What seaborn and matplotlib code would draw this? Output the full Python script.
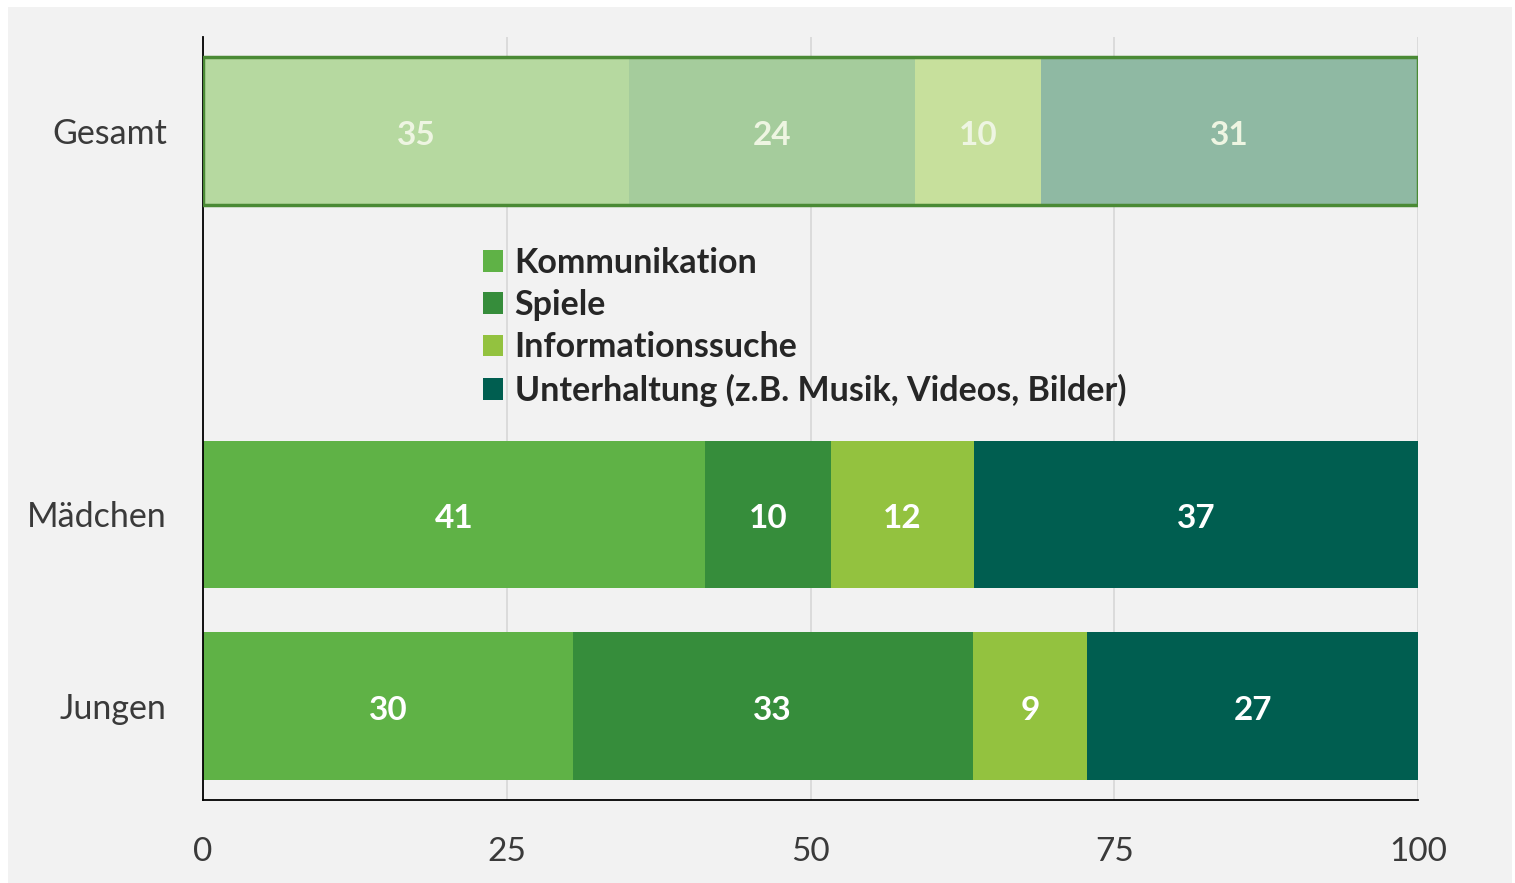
import matplotlib
matplotlib.use("Agg")
import matplotlib.pyplot as plt
import seaborn as sns
import pandas as pd
from matplotlib.patches import Rectangle, Patch

# ---------------- data ----------------
groups = ["Gesamt", "Mädchen", "Jungen"]
categories = ["Kommunikation", "Spiele", "Informationssuche",
              "Unterhaltung (z.B. Musik, Videos, Bilder)"]
kommunikation = [35.1, 41.4, 30.4]
spiele = [23.5, 10.4, 32.9]
informationssuche = [10.4, 11.8, 9.4]
unterhaltung = [31.0, 36.6, 27.2]
xticks = [0, 25, 50, 75, 100]

# ---------------- style ----------------
colors = ["#5fb246", "#368d3b", "#93c23f", "#005e50"]
light_colors = ["#b6d9a0", "#a5cc9c", "#c7e09c", "#8fb9a3"]
order = ["Gesamt", " ", "Mädchen", "Jungen"]
bg = "#f2f2f2"

sns.set_theme(style="white")
plt.rcParams['font.family'] = ['Lato', 'DejaVu Sans']

series = [kommunikation, spiele, informationssuche, unterhaltung]
rows = []
for ci, (cat, vals) in enumerate(zip(categories, series)):
    for g, v in zip(groups, vals):
        rows.append(dict(Gruppe=g, Kategorie=cat, Wert=v, idx=ci))
df = pd.DataFrame(rows)
df["Summe"] = df.groupby("Gruppe")["Wert"].transform("sum")
df["Anteil"] = df["Wert"] / df["Summe"] * 100
df = df.sort_values(["Gruppe", "idx"])
df["Ende"] = df.groupby("Gruppe")["Anteil"].cumsum()
df["Mitte"] = df["Ende"] - df["Anteil"] / 2

W, H = 1515, 883
fig = plt.figure(figsize=(W / 100, H / 100), dpi=100, facecolor="white")
fig.patches.append(Rectangle((8 / W, 0), 1504 / W, 876 / H, transform=fig.transFigure,
                             facecolor=bg, edgecolor="none", zorder=-10))
ax = fig.add_axes([203 / W, 83 / H, 1215 / W, 763 / H])
ax.set_facecolor(bg)

for ci in reversed(range(4)):
    sub = df[df["idx"] == ci]
    n0 = len(ax.patches)
    sns.barplot(data=sub, y="Gruppe", x="Ende", order=order, color=colors[ci],
                width=0.77, orient="h", ax=ax, saturation=1, errorbar=None,
                linewidth=0, zorder=2)
    for p in ax.patches[n0:]:
        if abs(p.get_y() + p.get_height() / 2) < 0.1:
            p.set_facecolor(light_colors[ci])

# outline around the "Gesamt" bar
tot = df[(df["Gruppe"] == "Gesamt") & (df["idx"] == 3)]
sns.barplot(data=tot, y="Gruppe", x="Ende", order=order, width=0.77, orient="h",
            ax=ax, fill=False, edgecolor="#4a8a35", linewidth=2.5, errorbar=None,
            zorder=3)

# value labels
for _, r in df.iterrows():
    ypos = order.index(r["Gruppe"])
    col = "#eef5e2" if r["Gruppe"] == "Gesamt" else "white"
    ax.annotate(f"{r['Wert']:.0f}", (r["Mitte"], ypos), xytext=(0, -3),
                textcoords="offset points", ha="center", va="center",
                fontsize=24, fontweight="bold", color=col, zorder=5)

ax.set_xlim(0, 100)
ax.set_ylim(3.49, -0.49)
ax.set_xticks(xticks)
ax.set_xticklabels([str(t) for t in xticks])
ax.set_yticks([0, 2, 3])
ax.set_yticklabels(["Gesamt", "Mädchen", "Jungen"])
ax.set_xlabel("")
ax.set_ylabel("")
ax.grid(axis="x", color="#d9d9d9", linewidth=1.3)
ax.grid(axis="y", visible=False)
ax.set_axisbelow(True)
for s in ["top", "right"]:
    ax.spines[s].set_visible(False)
for s in ["left", "bottom"]:
    ax.spines[s].set_color("black")
    ax.spines[s].set_linewidth(1.3)
ax.tick_params(axis="y", length=0, pad=26, labelsize=24.5, labelcolor="#3a3a3a")
ax.tick_params(axis="x", length=0, pad=26.5, labelsize=24, labelcolor="#3a3a3a")

handles = [Patch(facecolor=c, edgecolor="none") for c in colors]
leg = ax.legend(handles, categories, loc="upper left",
                bbox_to_anchor=((483 - 203) / 1215, (800 - 247) / 763),
                frameon=False, borderpad=0, borderaxespad=0,
                handlelength=0.6, handleheight=0.6, handletextpad=0.33,
                labelspacing=0.3, prop=dict(family=["Lato", "DejaVu Sans"], weight="bold", size=24.5))
for t in leg.get_texts():
    t.set_color("#262626")

fig.savefig("out.png", dpi=100, facecolor=fig.get_facecolor())
